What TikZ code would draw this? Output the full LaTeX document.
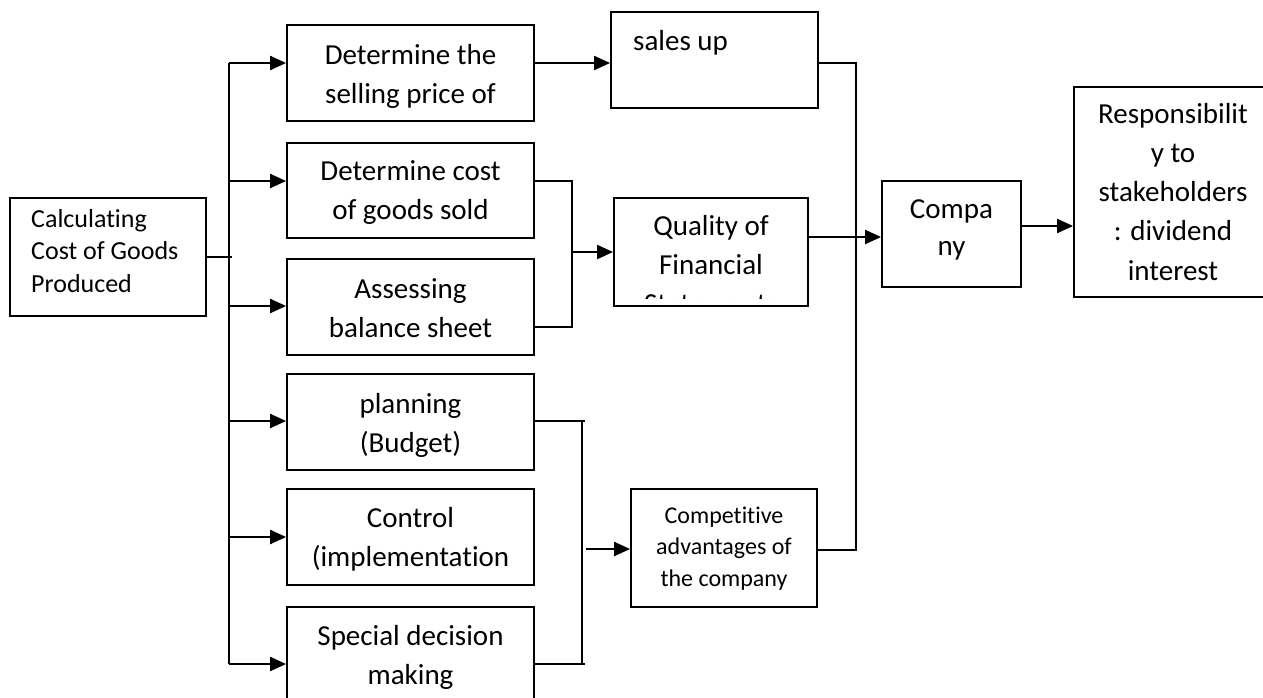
\documentclass[tikz,border=0pt]{standalone}
\usepackage{fontspec}
\setmainfont{Carlito}[Ligatures={NoCommon}]
\usetikzlibrary{arrows.meta}
\newcommand{\mlc}[1]{\begin{tabular}[t]{@{}c@{}}#1\end{tabular}}
\newcommand{\mll}[1]{\begin{tabular}[t]{@{}l@{}}#1\end{tabular}}
\begin{document}
\begin{tikzpicture}[x=1pt,y=-1pt,
  box/.style={draw, line width=1.8pt, inner sep=0pt, rectangle},
  txt/.style={anchor=base, inner sep=0pt, font=\fontsize{29}{39}\selectfont},
  txtsm/.style={anchor=base, inner sep=0pt, font=\fontsize{26}{32.5}\selectfont},
  txtxs/.style={anchor=base, inner sep=0pt, font=\fontsize{24}{31.5}\selectfont},
  conn/.style={line width=2.1pt},
  arr/.style={line width=2.1pt, -{Triangle[length=16pt,width=14pt]}}]
\useasboundingbox (0,0) rectangle (1263,697);
\clip (0,0) rectangle (1263,697);

% boxes
\node[box, minimum width=196pt, minimum height=118pt] (calc) at (108,257) {};
\node[box, minimum width=247pt, minimum height=96pt] (sell) at (410.5,73) {};
\node[box, minimum width=247pt, minimum height=95pt] (cogs) at (410.5,190.5) {};
\node[box, minimum width=247pt, minimum height=96pt] (bal) at (410.5,307) {};
\node[box, minimum width=247pt, minimum height=96pt] (plan) at (410.5,422) {};
\node[box, minimum width=247pt, minimum height=96pt] (ctrl) at (410.5,537) {};
\node[box, minimum width=247pt, minimum height=113pt] (spec) at (410.5,663.5) {};
\node[box, minimum width=207pt, minimum height=96pt] (sales) at (714.5,60) {};
\node[box, minimum width=194pt, minimum height=108pt] (qual) at (711,252) {};
\node[box, minimum width=186pt, minimum height=118pt] (comp) at (724,548) {};
\node[box, minimum width=139pt, minimum height=106pt] (co) at (951.5,234) {};
\node[box, minimum width=230pt, minimum height=210pt] (resp) at (1189,192) {};

% texts
\node[txtsm, anchor=base west] (calct) at (31,227) {\mll{Calculating\\Cost of Goods\\Produced}};
\node[txt] (sellt) at (410.5,64) {\mlc{Determine the\\selling price of}};
\node[txt] (cogst) at (410.5,180) {\mlc{Determine cost\\of goods sold}};
\node[txt] (balt) at (410.5,298) {\mlc{Assessing\\balance sheet}};
\node[txt] (plant) at (410.5,413) {\mlc{planning\\(Budget)}};
\node[txt] (ctrlt) at (410.5,527) {\mlc{Control\\(implementation}};
\node[txt] (spect) at (410.5,645) {\mlc{Special decision\\making}};
\node[txt, anchor=base west] (salest) at (633,50) {sales up};
\begin{scope}
\clip (614,198) rectangle (808,298);
\node[txt] (qualt) at (711,235) {\mlc{Quality of\\Financial\\Statements}};
\end{scope}
\node[txtxs] (compt) at (724,523) {\mlc{Competitive\\advantages of\\the company}};
\node[txt, font=\fontsize{29}{37}\selectfont] (cot) at (951.5,218) {\mlc{Compa\\ny}};
\node[txt, font=\fontsize{29}{39.25}\selectfont] (respt) at (1173,123) {\mlc{Responsibilit\\y to\\stakeholders\\: dividend\\interest}};

% bus from calculating box
\coordinate (busJ) at (229,257);
\coordinate (bus1) at (229,63);
\coordinate (bus2) at (229,181);
\coordinate (bus3) at (229,306);
\coordinate (bus4) at (229,421);
\coordinate (bus5) at (229,537);
\coordinate (bus6) at (229,664);
\draw[conn] (calc.east) -- ([xshift=3pt]busJ);
\draw[conn] (bus1) -- (bus6);
\draw[arr] (bus1) -- (bus1 -| sell.west);
\draw[arr] (bus2) -- (bus2 -| cogs.west);
\draw[arr] (bus3) -- (bus3 -| bal.west);
\draw[arr] (bus4) -- (bus4 -| plan.west);
\draw[arr] (bus5) -- (bus5 -| ctrl.west);
\draw[arr] (bus6) -- (bus6 -| spec.west);

% selling price -> sales up
\coordinate (s1) at (534,63);
\draw[arr] (s1 -| sell.east) -- (s1 -| sales.west);

% cogs + balance -> quality
\coordinate (b1t) at (572,181);
\coordinate (b1b) at (572,327);
\coordinate (b1m) at (572,252);
\draw[conn] (b1t -| cogs.east) -- (b1t) -- (b1b) -- (b1b -| bal.east);
\draw[arr] (b1m) -- (b1m -| qual.west);

% planning + special -> competitive
\coordinate (b2t) at (582,421);
\coordinate (b2b) at (582,664);
\coordinate (b2m) at (586,549);
\draw[conn] (b2t -| plan.east) -- ([xshift=3pt]b2t) (b2t) -- (b2b) ([xshift=3pt]b2b) -- (b2b -| spec.east);
\draw[arr] (b2m) -- (b2m -| comp.west);

% sales up / competitive -> company line
\coordinate (r1t) at (856,63);
\coordinate (r1b) at (856,550);
\draw[conn] (r1t -| sales.east) -- (r1t) -- (r1b) -- (r1b -| comp.east);
\coordinate (q1) at (808,237);
\draw[arr] (q1 -| qual.east) -- (q1 -| co.west);

% company -> responsibility
\coordinate (c1) at (1021,226);
\draw[arr] (c1 -| co.east) -- (c1 -| resp.west);
\end{tikzpicture}
\end{document}
